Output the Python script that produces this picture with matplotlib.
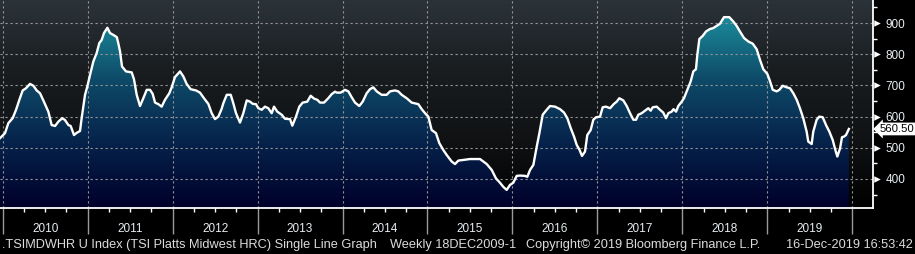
import numpy as np
import matplotlib.pyplot as plt
import matplotlib.transforms as mtransforms
from matplotlib.colors import LinearSegmentedColormap
from matplotlib.patches import Polygon

# weekly HRC price (fractional year, $/short ton)
dates = [2009.968, 2010.027, 2010.066, 2010.117, 2010.157, 2010.196, 2010.235, 2010.274,
         2010.321, 2010.361, 2010.400, 2010.439, 2010.478, 2010.537, 2010.576, 2010.616,
         2010.655, 2010.702, 2010.733, 2010.773, 2010.800, 2010.839, 2010.871, 2010.910,
         2010.929, 2010.969, 2010.996, 2011.028, 2011.067, 2011.106, 2011.137, 2011.165,
         2011.192, 2011.232, 2011.263, 2011.302, 2011.343, 2011.360, 2011.381, 2011.404,
         2011.451, 2011.518, 2011.545, 2011.577, 2011.616, 2011.655, 2011.695, 2011.734,
         2011.765, 2011.793, 2011.832, 2011.871, 2011.910, 2011.961, 2011.989, 2012.028,
         2012.087, 2012.126, 2012.165, 2012.212, 2012.275, 2012.322, 2012.369, 2012.420,
         2012.460, 2012.499, 2012.538, 2012.577, 2012.597, 2012.637, 2012.684, 2012.714,
         2012.746, 2012.793, 2012.832, 2012.872, 2012.911, 2012.943, 2012.981, 2013.009,
         2013.049, 2013.087, 2013.126, 2013.166, 2013.193, 2013.232, 2013.284, 2013.323,
         2013.382, 2013.409, 2013.452, 2013.491, 2013.531, 2013.585, 2013.625, 2013.664,
         2013.703, 2013.735, 2013.782, 2013.832, 2013.872, 2013.911, 2013.931, 2013.978,
         2014.029, 2014.068, 2014.108, 2014.147, 2014.197, 2014.237, 2014.284, 2014.323,
         2014.362, 2014.402, 2014.461, 2014.520, 2014.559, 2014.617, 2014.656, 2014.696,
         2014.755, 2014.814, 2014.892, 2014.932, 2014.971, 2015.010, 2015.049, 2015.100,
         2015.139, 2015.186, 2015.226, 2015.285, 2015.324, 2015.363, 2015.422, 2015.500,
         2015.618, 2015.657, 2015.697, 2015.756, 2015.806, 2015.853, 2015.892, 2015.932,
         2015.971, 2016.010, 2016.050, 2016.089, 2016.148, 2016.175, 2016.207, 2016.246,
         2016.286, 2016.317, 2016.356, 2016.403, 2016.442, 2016.501, 2016.560, 2016.607,
         2016.646, 2016.686, 2016.725, 2016.757, 2016.787, 2016.819, 2016.854, 2016.881,
         2016.921, 2016.952, 2016.984, 2017.031, 2017.062, 2017.101, 2017.149, 2017.195,
         2017.227, 2017.258, 2017.305, 2017.345, 2017.384, 2017.423, 2017.455, 2017.481,
         2017.521, 2017.560, 2017.599, 2017.627, 2017.651, 2017.698, 2017.737, 2017.775,
         2017.807, 2017.835, 2017.874, 2017.896, 2017.926, 2017.952, 2017.992, 2018.019,
         2018.058, 2018.098, 2018.129, 2018.160, 2018.176, 2018.200, 2018.240, 2018.278,
         2018.325, 2018.364, 2018.404, 2018.443, 2018.490, 2018.552, 2018.600, 2018.639,
         2018.678, 2018.726, 2018.776, 2018.828, 2018.875, 2018.914, 2018.953, 2019.000,
         2019.030, 2019.064, 2019.111, 2019.142, 2019.181, 2019.228, 2019.267, 2019.306,
         2019.346, 2019.384, 2019.423, 2019.463, 2019.482, 2019.522, 2019.541, 2019.581,
         2019.612, 2019.652, 2019.691, 2019.730, 2019.770, 2019.801, 2019.824, 2019.856,
         2019.879, 2019.903, 2019.926, 2019.954, 2019.960]
prices = [531, 547, 579, 595, 622, 654, 684, 691,
          705, 699, 684, 675, 652, 616, 573, 570,
          584, 595, 589, 573, 570, 541, 548, 554,
          595, 670, 697, 734, 777, 804, 836, 846,
          868, 885, 868, 862, 855, 836, 809, 761,
          745, 742, 720, 670, 634, 659, 686, 686,
          673, 645, 640, 632, 654, 675, 694, 727,
          745, 729, 705, 688, 684, 677, 659, 641,
          611, 592, 600, 625, 643, 670, 670, 643,
          611, 581, 611, 652, 648, 641, 640, 627,
          622, 632, 627, 611, 632, 616, 606, 593,
          592, 571, 600, 632, 645, 648, 667, 658,
          654, 645, 645, 659, 672, 680, 677, 677,
          686, 681, 662, 645, 634, 648, 675, 688,
          694, 681, 670, 670, 681, 684, 681, 670,
          659, 645, 640, 624, 611, 600, 557, 547,
          515, 493, 477, 456, 448, 459, 461, 464,
          464, 456, 448, 429, 402, 388, 375, 365,
          381, 388, 410, 411, 410, 407, 429, 445,
          504, 547, 606, 622, 634, 632, 624, 613,
          595, 563, 536, 509, 495, 474, 488, 541,
          557, 590, 598, 600, 630, 632, 627, 641,
          648, 659, 652, 634, 611, 590, 590, 606,
          611, 619, 627, 619, 630, 632, 622, 613,
          595, 611, 616, 624, 616, 634, 648, 659,
          686, 713, 745, 752, 798, 849, 859, 873,
          881, 884, 891, 898, 919, 919, 905, 891,
          873, 852, 841, 834, 816, 782, 752, 737,
          715, 686, 681, 686, 699, 694, 691, 675,
          654, 627, 595, 552, 520, 512, 552, 590,
          600, 598, 573, 552, 525, 493, 472, 498,
          534, 536, 541, 557, 560.5]

years = list(range(2010, 2020))
y_labels = [400, 500, 600, 700, 800, 900]
last_label = '560.50'
footer = ['.TSIMDWHR U Index (TSI Platts Midwest HRC) Single Line Graph',
          'Weekly 18DEC2009-1',
          'Copyright\u00a9 2019 Bloomberg Finance L.P.',
          '16-Dec-2019 16:53:42']

plt.rcParams['font.family'] = ['Liberation Sans', 'DejaVu Sans']

fig = plt.figure(figsize=(9.15, 2.54), dpi=100, facecolor='black')
ax = fig.add_axes([0.0, 46 / 254, 873 / 915, 208 / 254])
x0, x1 = 2009.968, 2020.244
y0, y1 = 307, 974

# dark background gradient
bg = LinearSegmentedColormap.from_list('bg', ['#000000', '#101214', '#191d20', '#2b333a'])
ax.imshow(np.linspace(0, 1, 256).reshape(-1, 1), cmap=bg, origin='lower',
          extent=[x0, x1, y0, y1], aspect='auto', zorder=0)

# teal-to-navy gradient under the curve
fill_cm = LinearSegmentedColormap.from_list('fill', ['#00002a', '#06224a', '#0e4a68', '#1b8c9c'])
img = ax.imshow(np.linspace(0, 1, 256).reshape(-1, 1), cmap=fill_cm, origin='lower',
                extent=[x0, x1, y0, 925], aspect='auto', zorder=1)
poly = Polygon(np.column_stack([np.r_[dates[0], dates, dates[-1]],
                                np.r_[y0, prices, y0]]),
               closed=True, facecolor='none', edgecolor='none', transform=ax.transData)
ax.add_patch(poly)
img.set_clip_path(poly)

ax.plot(dates, prices, color='white', lw=1.7, zorder=4, solid_joinstyle='round')

# dotted grid
for y in y_labels:
    ax.axhline(y, color='#959595', lw=0.8, ls=(0, (2, 2.5)), zorder=2)
for yr in years + [2020]:
    ax.axvline(yr, color='#959595', lw=0.8, ls=(0, (2, 2.5)), zorder=2)

ax.set_xlim(x0, x1)
ax.set_ylim(y0, y1)

for s in ['top', 'left']:
    ax.spines[s].set_visible(False)
for s in ['bottom', 'right']:
    ax.spines[s].set_color('white')
    ax.spines[s].set_linewidth(1.3)

# right axis
ax.yaxis.tick_right()
ax.set_yticks(y_labels)
ax.set_yticks(np.arange(350, 975, 100), minor=True)
ax.tick_params(axis='y', which='major', length=0, pad=9, labelsize=8.5, labelcolor='#e8eef2')
ax.tick_params(axis='y', which='minor', length=3, width=1, color='white')
tri = mtransforms.blended_transform_factory(ax.transAxes, ax.transData) + \
    mtransforms.ScaledTranslation(3.5 / 100, 0, fig.dpi_scale_trans)
ax.scatter([1.0] * len(y_labels), y_labels, marker='>', s=22, color='white',
           transform=tri, clip_on=False, zorder=5, linewidths=0)

# bottom axis
ax.set_xticks(years + [2020])
ax.set_xticklabels([])
ax.set_xticks(np.arange(2010, 2020.01, 0.25), minor=True)
ax.tick_params(axis='x', which='major', length=19, width=1, color='#9a9a9a')
ax.tick_params(axis='x', which='minor', length=3, width=1, color='white')
xt = mtransforms.blended_transform_factory(ax.transData, ax.transAxes)
for yr in years:
    ax.text(yr + 0.5, -0.10, str(yr), transform=xt, ha='center', va='center',
            fontsize=8.5, color='#e8eef2')

# last value tag
tag = mtransforms.blended_transform_factory(ax.transAxes, ax.transData) + \
    mtransforms.ScaledTranslation(7 / 100, 0, fig.dpi_scale_trans)
ax.text(1.0, prices[-1], last_label, transform=tag,
        ha='left', va='center', fontsize=8.2, color='black', clip_on=False, zorder=6,
        bbox=dict(boxstyle='larrow,pad=0.12', fc='white', ec='none'))

# footer
fy = 9 / 254
fig.text(2 / 915, fy, footer[0], ha='left', va='center', fontsize=9.2, color='#dcdcdc')
fig.text(390 / 915, fy, footer[1], ha='left', va='center', fontsize=9.2, color='#dcdcdc')
fig.text(526 / 915, fy, footer[2], ha='left', va='center', fontsize=9.2, color='#dcdcdc')
fig.text(913 / 915, fy, footer[3], ha='right', va='center', fontsize=9.2, color='#dcdcdc')

fig.savefig('out.png', dpi=100, facecolor='black')
